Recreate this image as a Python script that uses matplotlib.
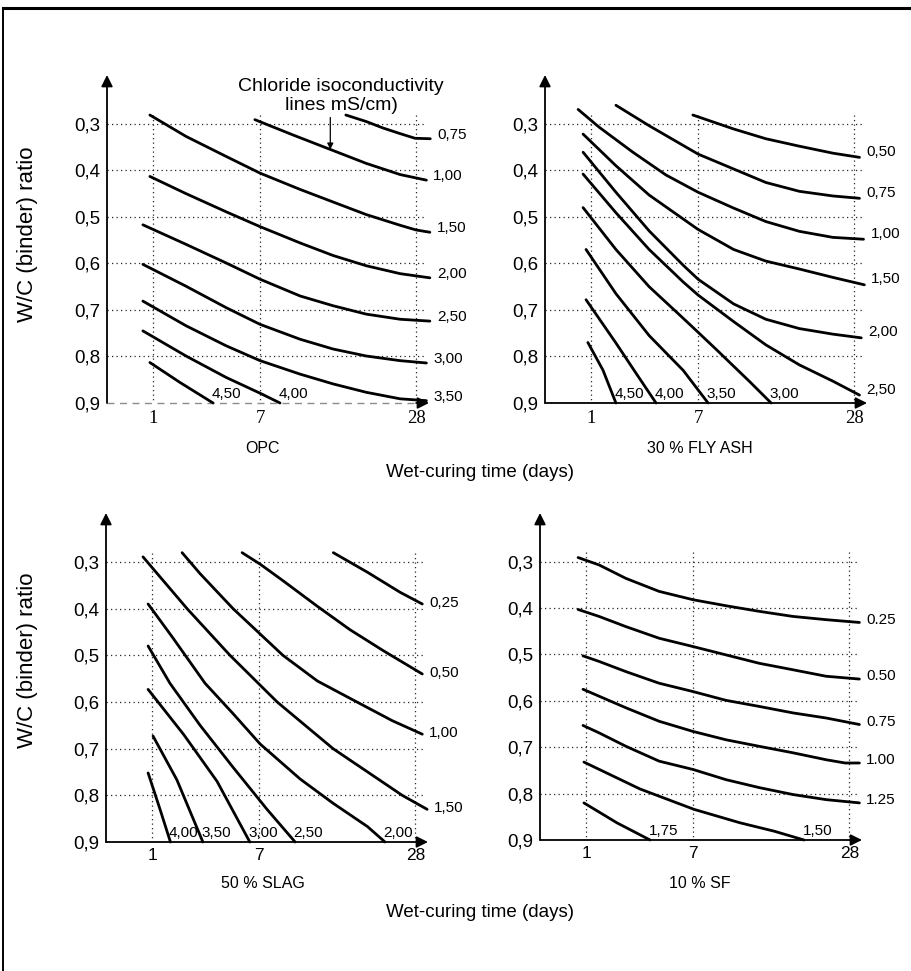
import numpy as np
import matplotlib
matplotlib.use('Agg')
from matplotlib import pyplot as plt
from matplotlib.lines import Line2D

plt.rcParams['font.family'] = ['Liberation Sans', 'DejaVu Sans']

TICK_DAYS = [1, 7, 28]
TICK_LABELS = ['1', '7', '28']
WC_TICKS = [0.3, 0.4, 0.5, 0.6, 0.7, 0.8, 0.9]
WC_LABELS = ['0,3', '0,4', '0,5', '0,6', '0,7', '0,8', '0,9']

# OPC
OPC_LEVELS = ['0,75', '1,00', '1,50', '2,00', '2,50', '3,00', '3,50', '4,00', '4,50']
OPC_DAYS = [
    [15.9, 18.85, 21.6, 24.7, 27.7, 31.1],
    [6.6, 9.86, 13.9, 18.85, 24.7, 30.2],
    [0.88, 2.43, 4.63, 7.0, 10.55, 14.25, 18.85, 24.7, 27.9, 31.0],
    [0.88, 2.43, 4.63, 7.0, 10.55, 14.25, 18.85, 24.7, 31.0],
    [0.62, 2.43, 4.63, 7.0, 10.55, 14.25, 18.85, 24.7, 31.0],
    [0.62, 2.43, 4.63, 7.0, 10.55, 14.25, 18.85, 24.7, 30.2],
    [0.62, 2.43, 4.63, 7.0, 10.55, 14.25, 18.85, 24.7, 30.2],
    [0.62, 2.43, 4.63, 7.0, 8.65],
    [0.88, 2.15, 3.85],
]
OPC_WC = [
    [0.281, 0.295, 0.309, 0.321, 0.331, 0.332],
    [0.291, 0.324, 0.355, 0.385, 0.409, 0.421],
    [0.281, 0.327, 0.370, 0.406, 0.441, 0.468, 0.495, 0.518, 0.528, 0.533],
    [0.413, 0.450, 0.489, 0.521, 0.556, 0.583, 0.605, 0.622, 0.631],
    [0.517, 0.559, 0.599, 0.634, 0.670, 0.691, 0.709, 0.720, 0.724],
    [0.602, 0.649, 0.695, 0.731, 0.763, 0.784, 0.799, 0.809, 0.814],
    [0.681, 0.734, 0.777, 0.809, 0.838, 0.859, 0.877, 0.891, 0.895],
    [0.745, 0.799, 0.845, 0.879, 0.900],
    [0.813, 0.856, 0.900],
]

# 30 % fly ash
FA_LEVELS = ['0,50', '0,75', '1,00', '1,50', '2,00', '2,50', '3,00', '3,50', '4,00', '4,50']
FA_DAYS = [
    [6.6, 10.1, 13.6, 18.1, 23.7, 29.1],
    [2.05, 3.74, 7.0, 10.1, 13.6, 18.1, 23.7, 29.1],
    [0.52, 1.32, 2.87, 4.75, 7.0, 10.1, 13.6, 18.1, 23.7, 30.0],
    [0.70, 2.05, 3.74, 7.0, 10.1, 13.6, 18.1, 23.7, 30.2],
    [0.70, 2.05, 3.74, 5.9, 7.0, 10.1, 13.6, 18.1, 23.7, 29.5],
    [0.70, 2.05, 3.74, 5.9, 7.0, 10.1, 13.6, 18.1, 23.7, 29.1],
    [0.70, 2.05, 3.74, 5.9, 7.0, 8.5, 11.8, 14.25],
    [0.81, 2.05, 3.74, 5.9, 7.8],
    [0.81, 2.05, 3.03, 4.14],
    [0.88, 1.48, 2.05],
]
FA_WC = [
    [0.281, 0.311, 0.332, 0.348, 0.363, 0.372],
    [0.260, 0.304, 0.365, 0.397, 0.426, 0.445, 0.455, 0.460],
    [0.269, 0.307, 0.361, 0.410, 0.447, 0.481, 0.510, 0.531, 0.544, 0.548],
    [0.322, 0.390, 0.453, 0.527, 0.570, 0.595, 0.612, 0.630, 0.646],
    [0.361, 0.447, 0.530, 0.604, 0.634, 0.687, 0.720, 0.740, 0.752, 0.760],
    [0.408, 0.491, 0.570, 0.640, 0.668, 0.725, 0.775, 0.818, 0.853, 0.883],
    [0.480, 0.570, 0.650, 0.718, 0.748, 0.785, 0.855, 0.900],
    [0.570, 0.665, 0.755, 0.830, 0.900],
    [0.678, 0.771, 0.836, 0.900],
    [0.770, 0.829, 0.900],
]

# 50 % slag
SL_LEVELS = ['0,25', '0,50', '1,00', '1,50', '2,00', '2,50', '3,00', '3,50', '4,00']
SL_DAYS = [
    [14.4, 19.2, 24.9, 29.5],
    [5.75, 7.1, 9.0, 12.5, 16.6, 21.8, 29.5],
    [2.29, 3.19, 5.14, 9.0, 12.5, 17.6, 23.4, 29.5],
    [0.66, 2.53, 4.94, 8.49, 14.37, 25.3, 30.6],
    [0.85, 1.83, 3.46, 5.14, 7.08, 10.65, 14.37, 19.2, 22.1],
    [0.85, 1.74, 3.19, 5.14, 7.63, 10.15],
    [0.85, 2.37, 4.14, 6.3],
    [1.04, 2.05, 3.34],
    [0.85, 1.32, 1.76],
]
SL_WC = [
    [0.280, 0.322, 0.365, 0.390],
    [0.280, 0.305, 0.340, 0.395, 0.445, 0.490, 0.540],
    [0.280, 0.325, 0.400, 0.500, 0.555, 0.600, 0.640, 0.669],
    [0.289, 0.400, 0.500, 0.600, 0.700, 0.800, 0.830],
    [0.390, 0.460, 0.560, 0.625, 0.690, 0.765, 0.817, 0.867, 0.900],
    [0.480, 0.560, 0.650, 0.740, 0.830, 0.900],
    [0.573, 0.670, 0.770, 0.900],
    [0.673, 0.767, 0.900],
    [0.752, 0.830, 0.900],
]

# 10 % silica fume
SF_LEVELS = ['0.25', '0.50', '0.75', '1.00', '1.25', '1,50', '1,75']
SF_DAYS = [
    [0.70, 1.53, 2.77, 4.63, 7.0, 9.86, 13.4, 17.9, 23.4, 30.2],
    [0.70, 1.53, 2.77, 4.63, 7.0, 9.86, 13.4, 17.9, 23.4, 30.2],
    [0.885, 1.53, 2.77, 4.63, 7.0, 9.86, 13.4, 17.9, 23.4, 30.2],
    [0.885, 1.53, 2.77, 4.63, 7.0, 9.86, 13.4, 17.9, 23.4, 27.1, 30.2],
    [0.885, 1.53, 2.77, 4.63, 7.0, 9.86, 13.4, 17.9, 23.4, 30.2],
    [0.92, 3.51, 7.08, 11.27, 15.28, 19.6],
    [0.92, 2.33, 4.08],
]
SF_WC = [
    [0.291, 0.307, 0.336, 0.364, 0.382, 0.395, 0.407, 0.418, 0.425, 0.431],
    [0.403, 0.418, 0.440, 0.465, 0.483, 0.501, 0.519, 0.533, 0.547, 0.553],
    [0.503, 0.515, 0.537, 0.562, 0.580, 0.599, 0.612, 0.626, 0.637, 0.651],
    [0.575, 0.590, 0.615, 0.644, 0.666, 0.684, 0.698, 0.712, 0.727, 0.734, 0.734],
    [0.653, 0.669, 0.698, 0.730, 0.748, 0.770, 0.787, 0.802, 0.813, 0.820],
    [0.732, 0.790, 0.834, 0.863, 0.881, 0.900],
    [0.820, 0.863, 0.900],
]

W, H = 912, 971
X_MIN, X_MAX = -0.545, 30.8
Y_TOP, Y_BOTTOM = 0.195, 0.9
DOTS = (0, (1, 2.6))


def forward(t):
    return np.log(np.clip(np.asarray(t, dtype=float) + 5, 1e-9, None))


def inverse(f):
    return np.exp(f) - 5


def px_axes(fig, left, top, right, bottom):
    return fig.add_axes([left / W, 1 - bottom / H, (right - left) / W,
                         (bottom - top) / H])


def draw_panel(ax, levels, days, wc, serif_ticks=False, dotted_base=False,
               label_dy=0):
    ax.set_xscale('function', functions=(forward, inverse))
    ax.set_xlim(X_MIN, X_MAX)
    ax.set_ylim(Y_BOTTOM, Y_TOP)
    for spine in ax.spines.values():
        spine.set_visible(False)
    ax.patch.set_alpha(0)

    # dotted reference grid
    ax.hlines(WC_TICKS[:-1], X_MIN, 30.2, colors='0.15', linestyles=DOTS,
              lw=0.9)
    ax.vlines(TICK_DAYS, 0.28, Y_BOTTOM, colors='0.15', linestyles=DOTS,
              lw=0.9)

    arrow = dict(arrowstyle='-|>', color='black', lw=1.3,
                 mutation_scale=17, shrinkA=0, shrinkB=0)
    ax.annotate('', xy=(0, 1), xytext=(0, 0), xycoords='axes fraction',
                arrowprops=arrow)
    if dotted_base:
        ax.plot([0, 0.97], [0, 0], transform=ax.transAxes, color='0.55',
                lw=1.0, ls=(0, (5, 4)), clip_on=False)
        ax.annotate('', xy=(1, 0), xytext=(0.96, 0), xycoords='axes fraction',
                    arrowprops=arrow)
    else:
        ax.annotate('', xy=(1, 0), xytext=(0, 0), xycoords='axes fraction',
                    arrowprops=arrow)

    for lev, d, w in zip(levels, days, wc):
        ax.plot(d, w, color='black', lw=2.0, solid_capstyle='round',
                solid_joinstyle='round', clip_on=False)
        if w[-1] >= 0.9:
            ax.annotate(lev, (d[-1], Y_BOTTOM), xytext=(-1, 1.5),
                        textcoords='offset points', ha='left', va='bottom',
                        fontsize=11, annotation_clip=False)
        else:
            ax.annotate(lev, (d[-1], w[-1]), xytext=(5, label_dy),
                        textcoords='offset points', ha='left', va='center',
                        fontsize=11, annotation_clip=False)

    ax.set_yticks(WC_TICKS)
    ax.set_yticklabels(WC_LABELS, fontsize=13.5)
    ax.set_xticks(TICK_DAYS)
    if serif_ticks:
        ax.set_xticklabels(TICK_LABELS, fontsize=13.5,
                           family=['Liberation Serif', 'DejaVu Serif'])
        ax.tick_params(axis='x', length=0, pad=5)
    else:
        ax.set_xticklabels(TICK_LABELS, fontsize=12.5)
        ax.tick_params(axis='x', length=0, pad=4)
    ax.tick_params(axis='y', length=0, pad=5)
    ax.minorticks_off()


def main():
    fig = plt.figure(figsize=(W / 100, H / 100), dpi=100)

    ax1 = px_axes(fig, 107, 75, 429, 403)
    ax2 = px_axes(fig, 545, 75, 867, 403)
    ax3 = px_axes(fig, 106, 513, 428, 842)
    ax4 = px_axes(fig, 540, 513, 862, 840)

    draw_panel(ax1, OPC_LEVELS, OPC_DAYS, OPC_WC, serif_ticks=True,
               dotted_base=True, label_dy=3)
    draw_panel(ax2, FA_LEVELS, FA_DAYS, FA_WC, serif_ticks=True, label_dy=4)
    draw_panel(ax3, SL_LEVELS, SL_DAYS, SL_WC, label_dy=1)
    draw_panel(ax4, SF_LEVELS, SF_DAYS, SF_WC, label_dy=2)

    # pointer to the 1,00 OPC line
    t_arrow = 13.9
    y_arrow = np.interp(t_arrow, OPC_DAYS[1], OPC_WC[1])
    ax1.annotate('', xy=(t_arrow, y_arrow), xytext=(0, 23),
                 textcoords='offset points',
                 arrowprops=dict(arrowstyle='-|>', color='black', lw=0.9,
                                 mutation_scale=9, shrinkA=0, shrinkB=0))
    fig.text(341 / W, 1 - 96 / H, 'Chloride isoconductivity\nlines mS/cm)',
             ha='center', va='center', fontsize=14, linespacing=1.12)

    for y in (234, 660):
        fig.text(28 / W, 1 - y / H, 'W/C (binder) ratio', rotation=90,
                 ha='center', va='center', fontsize=16)

    fig.text(263 / W, 1 - 448 / H, 'OPC', ha='center', va='center',
             fontsize=11.5)
    fig.text(700 / W, 1 - 448 / H, '30 % FLY ASH', ha='center', va='center',
             fontsize=11.5)
    fig.text(480 / W, 1 - 472 / H, 'Wet-curing time (days)', ha='center',
             va='center', fontsize=13.5)
    fig.text(263 / W, 1 - 884 / H, '50 % SLAG', ha='center', va='center',
             fontsize=11.5)
    fig.text(700 / W, 1 - 884 / H, '10 % SF', ha='center', va='center',
             fontsize=11.5)
    fig.text(480 / W, 1 - 912 / H, 'Wet-curing time (days)', ha='center',
             va='center', fontsize=13.5)

    # scanned page frame
    fig.add_artist(Line2D([3 / W, 1], [1 - 8 / H, 1 - 8 / H],
                          transform=fig.transFigure, color='black', lw=2.2))
    fig.add_artist(Line2D([3.5 / W, 3.5 / W], [0, 1 - 8 / H],
                          transform=fig.transFigure, color='black', lw=1.4))

    fig.savefig('out.png', dpi=100)


main()
